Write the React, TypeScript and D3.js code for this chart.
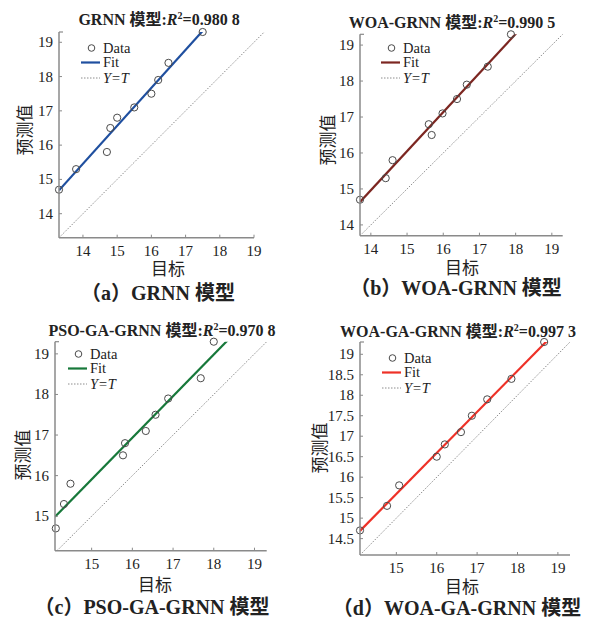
import React from "react";
import * as d3 from "d3";

// predicted values (same ordering in every panel)
const predA = [14.7, 15.3, 15.8, 16.5, 16.8, 17.1, 17.5, 17.9, 18.4, 19.3];
const targetA = [13.3, 13.8, 14.7, 14.8, 15.0, 15.5, 16.0, 16.2, 16.5, 17.5];

const predB = [14.7, 15.3, 15.8, 16.8, 16.5, 17.1, 17.5, 17.9, 18.4, 19.3];
const targetB = [13.7, 14.41, 14.6, 15.6, 15.68, 15.98, 16.38, 16.65, 17.23, 17.87];

const predC = [14.7, 15.3, 15.8, 16.5, 16.8, 17.1, 17.5, 17.9, 18.4, 19.3];
const targetC = [14.12, 14.32, 14.48, 15.77, 15.82, 16.33, 16.57, 16.88, 17.68, 18.0];

const predD = [14.7, 15.3, 15.8, 16.5, 16.8, 17.1, 17.5, 17.9, 18.4, 19.3];
const targetD = [14.1, 14.77, 15.07, 16.0, 16.2, 16.6, 16.87, 17.25, 17.85, 18.66];

const ticksAB = [14, 15, 16, 17, 18, 19];
const ticksC = [15, 16, 17, 18, 19];
const yTicksD = [14.5, 15, 15.5, 16, 16.5, 17, 17.5, 18, 18.5, 19];

const FONT = "\"Liberation Serif\", \"DejaVu Serif\", \"Noto Sans CJK SC\", serif";
const AXIS = "#8a8a8a";

const panels = [
  {
    id: "a", model: "GRNN", r2: "0.980 8", color: "#1f4f9f",
    x: targetA, y: predA,
    xDomain: [13.3, 19], xRange: [59, 254], yDomain: [13.3, 19.3], yRange: [237.7, 32],
    xTicks: ticksAB, yTicks: ticksAB,
    title: [159, 25], xLabel: [168, 275], yLabel: [25, 130], caption: [158, 300],
    legend: [81, 48], caption2: "（a）GRNN 模型",
  },
  {
    id: "b", model: "WOA-GRNN", r2: "0.990 5", color: "#7c2621",
    x: targetB, y: predB,
    xDomain: [13.7, 19.3], xRange: [360, 562.7], yDomain: [13.7, 19.3], yRange: [235.7, 34.3],
    xTicks: ticksAB, yTicks: ticksAB,
    title: [452, 28], xLabel: [462, 274], yLabel: [328, 140], caption: [456, 295],
    legend: [381, 48], caption2: "（b）WOA-GRNN 模型",
  },
  {
    id: "c", model: "PSO-GA-GRNN", r2: "0.970 8", color: "#17783a",
    x: targetC, y: predC,
    xDomain: [14.1, 19.3], xRange: [55, 266.7], yDomain: [14.15, 19.3], yRange: [550.7, 341.7],
    xTicks: ticksC, yTicks: ticksC,
    title: [162, 336], xLabel: [155, 591], yLabel: [23, 455], caption: [152, 614],
    legend: [68, 354], caption2: "（c）PSO-GA-GRNN 模型",
  },
  {
    id: "d", model: "WOA-GA-GRNN", r2: "0.997 3", color: "#ee3127",
    x: targetD, y: predD,
    xDomain: [14.1, 19.3], xRange: [360, 570], yDomain: [14.1, 19.3], yRange: [555, 342],
    xTicks: ticksC, yTicks: yTicksD,
    title: [458, 337], xLabel: [462, 593], yLabel: [320, 448], caption: [457, 615],
    legend: [382, 358], caption2: "（d）WOA-GA-GRNN 模型",
  },
];

function fit(xs: number[], ys: number[]) {
  const mx = d3.mean(xs) as number;
  const my = d3.mean(ys) as number;
  const sxy = d3.sum(xs, (x, i) => (x - mx) * (ys[i] - my));
  const sxx = d3.sum(xs, (x) => (x - mx) * (x - mx));
  const slope = sxy / sxx;
  return (x: number) => my + slope * (x - mx);
}

function Panel({ p }: { p: any }) {
  const xs = d3.scaleLinear().domain(p.xDomain).range(p.xRange);
  const ys = d3.scaleLinear().domain(p.yDomain).range(p.yRange);
  const f = fit(p.x, p.y);
  const line = d3.line<number>().x((d) => xs(d)).y((d) => ys(f(d)));
  const lo = Math.max(p.xDomain[0], p.yDomain[0]);
  const hi = p.yDomain[1];
  const [x0, x1] = p.xRange;
  const [y0, y1] = p.yRange;
  const [lx, ly] = p.legend;
  const fmt = (v: number) => (Number.isInteger(v) ? String(v) : v.toFixed(1));
  return (
    <g>
      <defs>
        <clipPath id={`clip-${p.id}`}>
          <rect x={x0} y={y1} width={x1 - x0} height={y0 - y1} />
        </clipPath>
      </defs>
      {/* y = t reference */}
      <line x1={xs(lo)} y1={ys(lo)} x2={xs(hi)} y2={ys(hi)} stroke="#8c8c8c" strokeWidth={1} strokeDasharray="1.5,1.5" />
      {/* fit */}
      <path d={line(p.xDomain) as string} stroke={p.color} strokeWidth={2.2} fill="none" clipPath={`url(#clip-${p.id})`} />
      {p.x.map((v: number, i: number) => (
        <circle key={i} cx={xs(v)} cy={ys(p.y[i])} r={3.6} fill="none" stroke="#4a4a4a" strokeWidth={1} />
      ))}
      {/* axes */}
      <line x1={x0} y1={y0} x2={x1} y2={y0} stroke={AXIS} strokeWidth={1.5} />
      <line x1={x0} y1={y0} x2={x0} y2={y1} stroke={AXIS} strokeWidth={1.5} />
      <line x1={x0} y1={y1} x2={x0 + 4} y2={y1} stroke={AXIS} strokeWidth={1.2} />
      {p.xTicks.map((t: number) => (
        <g key={`x${t}`}>
          <line x1={xs(t)} x2={xs(t)} y1={y0} y2={y0 - 3} stroke={AXIS} strokeWidth={1} />
          <text x={xs(t)} y={y0 + 18} fontSize={15} textAnchor="middle" fill="#222">{fmt(t)}</text>
        </g>
      ))}
      {p.yTicks.map((t: number) => (
        <g key={`y${t}`}>
          <line x1={x0} x2={x0 + 3} y1={ys(t)} y2={ys(t)} stroke={AXIS} strokeWidth={1} />
          <text x={x0 - 6} y={ys(t) + 5} fontSize={15} textAnchor="end" fill="#222">{fmt(t)}</text>
        </g>
      ))}
      {/* legend */}
      <circle cx={lx + 10.5} cy={ly} r={3.3} fill="none" stroke="#4a4a4a" strokeWidth={1} />
      <text x={lx + 22} y={ly + 4.5} fontSize={14.5} fill="#222">Data</text>
      <line x1={lx} x2={lx + 19} y1={ly + 14.5} y2={ly + 14.5} stroke={p.color} strokeWidth={2.2} />
      <text x={lx + 22} y={ly + 19} fontSize={14.5} fill="#222">Fit</text>
      <line x1={lx} x2={lx + 19} y1={ly + 30} y2={ly + 30} stroke="#8c8c8c" strokeWidth={1} strokeDasharray="1.5,1.5" />
      <text x={lx + 22} y={ly + 34.5} fontSize={14.5} fill="#222" fontStyle="italic">Y=T</text>
      {/* titles */}
      <text x={p.title[0]} y={p.title[1]} fontSize={16} fontWeight="bold" textAnchor="middle" fill="#222">
        {p.model} 模型:<tspan fontStyle="italic">R</tspan>
        <tspan fontSize={10} dy={-6}>2</tspan>
        <tspan dy={6}>={p.r2}</tspan>
      </text>
      <text x={p.xLabel[0]} y={p.xLabel[1]} fontSize={17} textAnchor="middle" fill="#222">目标</text>
      <text transform={`translate(${p.yLabel[0] + 6},${p.yLabel[1]}) rotate(-90)`} fontSize={17} textAnchor="middle" fill="#222">预测值</text>
      <text x={p.caption[0]} y={p.caption[1]} fontSize={20} fontWeight="bold" textAnchor="middle" fill="#222">{p.caption2}</text>
    </g>
  );
}

export default function App() {
  return (
    <svg width={595} height={620} style={{ position: "absolute", left: 0, top: 0, background: "#fff", fontFamily: FONT }}>
      {panels.map((p) => (
        <Panel key={p.id} p={p} />
      ))}
    </svg>
  );
}
